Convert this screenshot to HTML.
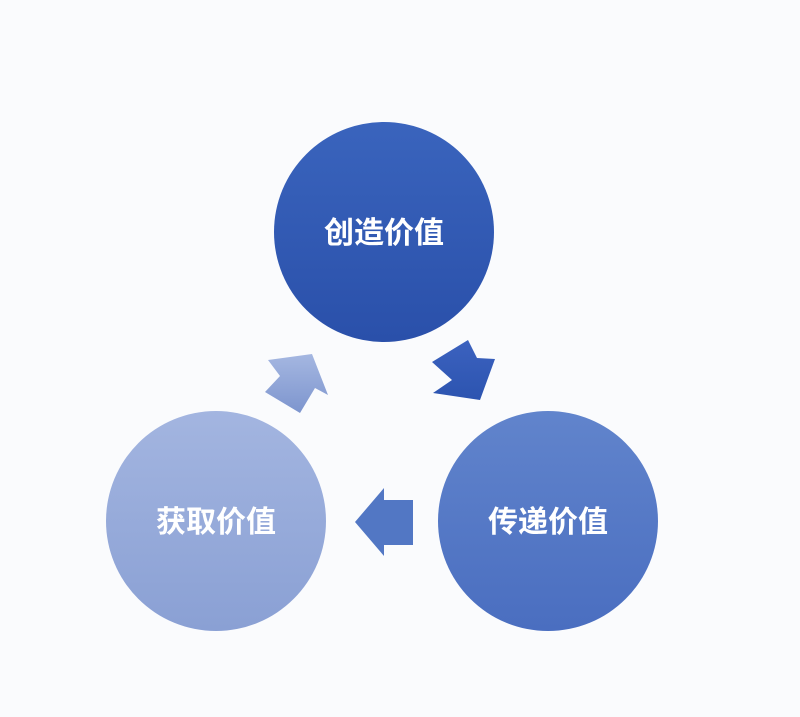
<!DOCTYPE html>
<html><head><meta charset="utf-8"><style>
html,body{margin:0;padding:0;background:#fafbfd;}
svg{display:block}
text{font-family:"Liberation Sans","Noto Sans CJK SC",sans-serif;font-weight:bold;font-size:30px;fill:#fff;}
</style></head><body>
<svg width="800" height="717" viewBox="0 0 800 717">
<defs>
<linearGradient id="g1" x1="0" y1="0" x2="0" y2="1"><stop offset="0" stop-color="#3a64bd"/><stop offset="1" stop-color="#2a50aa"/></linearGradient>
<linearGradient id="g2" x1="0" y1="0" x2="0" y2="1"><stop offset="0" stop-color="#6184cc"/><stop offset="1" stop-color="#4a6ec0"/></linearGradient>
<linearGradient id="g3" x1="0" y1="0" x2="0" y2="1"><stop offset="0" stop-color="#a3b5e0"/><stop offset="1" stop-color="#8aa0d4"/></linearGradient>
<linearGradient id="a1" x1="0" y1="0" x2="0" y2="1"><stop offset="0" stop-color="#3c62bf"/><stop offset="1" stop-color="#2c54b0"/></linearGradient>
<linearGradient id="a3" x1="0" y1="0" x2="0" y2="1"><stop offset="0" stop-color="#a5b7e1"/><stop offset="1" stop-color="#7d95ce"/></linearGradient>
</defs>
<rect width="800" height="717" fill="#fafbfd"/>
<circle cx="384" cy="232" r="110" fill="url(#g1)"/>
<circle cx="548" cy="521" r="110" fill="url(#g2)"/>
<circle cx="216" cy="521" r="110" fill="url(#g3)"/>
<text x="384" y="243" text-anchor="middle">创造价值</text>
<text x="548" y="532" text-anchor="middle">传递价值</text>
<text x="216" y="532" text-anchor="middle">获取价值</text>
<polygon points="432,362 468,340 477,358 495,359 480,400 433,393 452,380" fill="url(#a1)"/>
<polygon points="355,522 384,488 384,500 413,500 413,545 384,545 384,556" fill="#5277c4"/>
<polygon points="268,360 312,354 328,395 315,388 300,413 265,392 280,376" fill="url(#a3)"/>
</svg>
</body></html>
